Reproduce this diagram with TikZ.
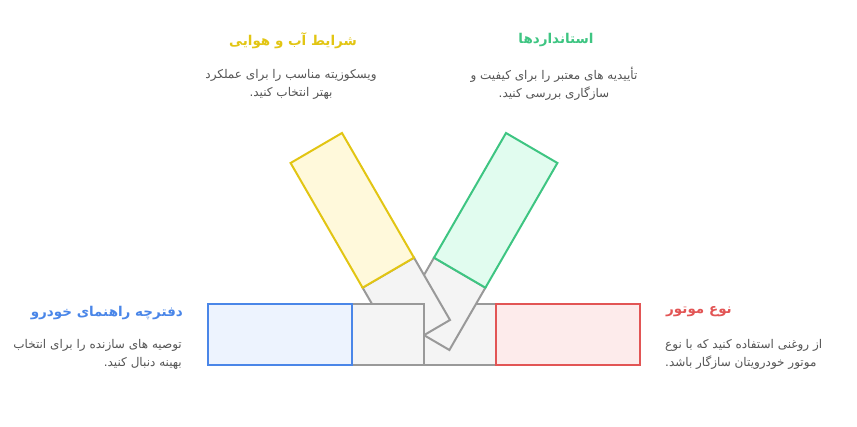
\documentclass[tikz,border=0pt]{standalone}
\usepackage{fontspec}
\TeXXeTstate=1
\newfontfamily\fa[Script=Arabic]{DejaVu Sans}
\definecolor{yelS}{HTML}{E2C513}
\definecolor{yelF}{HTML}{FFF9DB}
\definecolor{grnS}{HTML}{3EC582}
\definecolor{grnF}{HTML}{E1FCEF}
\definecolor{bluS}{HTML}{4A86E8}
\definecolor{bluF}{HTML}{EDF3FE}
\definecolor{redS}{HTML}{E25555}
\definecolor{redF}{HTML}{FDEBEB}
\definecolor{gryS}{HTML}{999999}
\definecolor{gryF}{HTML}{F4F4F4}
\definecolor{txt}{HTML}{555555}
\begin{document}
\begin{tikzpicture}[x=1pt,y=-1pt,
  shp/.style={line width=2pt, line join=miter},
  ttl/.style={font=\fa\bfseries\fontsize{13.5}{16}\selectfont, inner sep=0pt},
  dsc/.style={font=\fa\fontsize{12}{18}\selectfont, text=txt, inner sep=0pt}]
\useasboundingbox (0,0) rectangle (857,427);
% coordinates
\coordinate (yA) at (290.6,163);
\coordinate (yB) at (342,133);
\coordinate (yC) at (414,257.7);
\coordinate (yD) at (362.6,287.7);
\coordinate (yE) at (450,320);
\coordinate (yF) at (398.6,350);
\coordinate (gA) at (557.4,163);
\coordinate (gB) at (506,133);
\coordinate (gC) at (434,257.7);
\coordinate (gD) at (485.4,287.7);
\coordinate (gE) at (398,320);
\coordinate (gF) at (449.4,350);
% right gray and red
\draw[shp, draw=gryS, fill=gryF] (424,304.5) rectangle (496,365);
\draw[shp, draw=redS, fill=redF] (496,304.5) rectangle (640,365);
% green
\draw[shp, draw=gryS, fill=gryF] (gC) -- (gD) -- (gF) -- (gE) -- cycle;
\draw[shp, draw=grnS, fill=grnF] (gB) -- (gA) -- (gD) -- (gC) -- cycle;
% yellow
\draw[shp, draw=gryS, fill=gryF] (yD) -- (yC) -- (yE) -- (yF) -- cycle;
\draw[shp, draw=yelS, fill=yelF] (yA) -- (yB) -- (yC) -- (yD) -- cycle;
% left gray and blue
\draw[shp, draw=gryS, fill=gryF] (352,304.5) rectangle (424,365);
\draw[shp, draw=bluS, fill=bluF] (208,304.5) rectangle (352,365);
% texts
\node[ttl, text=yelS] (t1) at (293,41) {\beginR شرایط آب و هوایی\endR};
\node[dsc, align=center] (d1) at (291,84) {\beginR ویسکوزیته مناسب را برای عملکرد\endR\\\beginR بهتر انتخاب کنید.\endR};
\node[ttl, text=grnS] (t2) at (556,40) {\beginR استانداردها\endR};
\node[dsc, align=center] (d2) at (554,84) {\beginR تأییدیه های معتبر را برای کیفیت و\endR\\\beginR سازگاری بررسی کنید.\endR};
\node[ttl, text=bluS, anchor=east] (t3) at (183,313) {\beginR دفترچه راهنمای خودرو\endR};
\node[dsc, align=right, anchor=east] (d3) at (182,354) {\beginR توصیه های سازنده را برای انتخاب\endR\\\beginR بهینه دنبال کنید.\endR};
\node[ttl, text=redS, anchor=west] (t4) at (666,312) {\beginR نوع موتور\endR};
\node[dsc, align=left, anchor=west] (d4) at (665,354) {\beginR از روغنی استفاده کنید که با نوع\endR\\\beginR موتور خودرویتان سازگار باشد.\endR};
\end{tikzpicture}
\end{document}
